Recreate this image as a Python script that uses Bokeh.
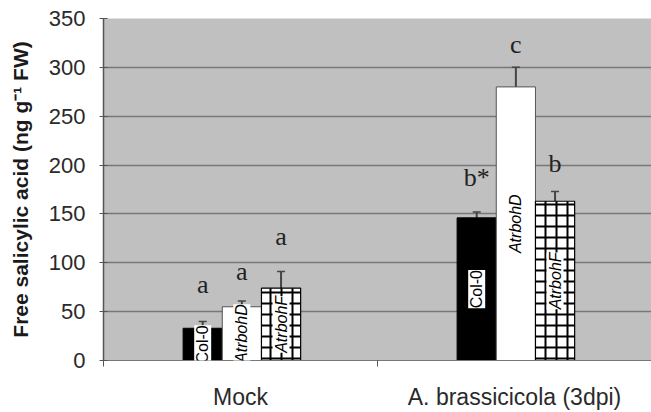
import numpy as np
from bokeh.plotting import figure
from bokeh.models import (ColumnDataSource, FixedTicker, Whisker, TeeHead,
                          LabelSet, Range1d)
from bokeh.embed import file_html
from bokeh.resources import INLINE
from bokeh.core.properties import value

# ---- data ----
groups = ["Mock", "A. brassicicola (3dpi)"]
genotypes = ["Col-0", "AtrbohD", "AtrbohF"]
mock_values = [33, 55, 74]
mock_err_top = [40, 61, 91]
path_values = [146, 280, 163]
path_err_top = [152, 300, 173]
mock_letters = ["a", "a", "a"]
path_letters = ["b*", "c", "b"]
mock_letter_y = [63, 76, 112]
path_letter_y = [172, 309, 187]
y_ticks = [0, 50, 100, 150, 200, 250, 300, 350]

# ---- build table ----
bar_w = 0.143
xs, vals, tops, letters, letter_y, names = [], [], [], [], [], []
for gi, (v, e, l, ly) in enumerate([
        (mock_values, mock_err_top, mock_letters, mock_letter_y),
        (path_values, path_err_top, path_letters, path_letter_y)]):
    for si in range(3):
        xs.append(gi + 0.505 + (si - 1) * bar_w)
        vals.append(v[si])
        tops.append(e[si])
        letters.append(l[si])
        letter_y.append(ly[si])
        names.append(genotypes[si])

src = ColumnDataSource(dict(x=xs, top=vals, upper=tops, letter=letters,
                            ly=letter_y, name=names))

p = figure(width=651, height=412, output_backend="svg", toolbar_location=None,
           x_range=Range1d(0, 2), y_range=Range1d(0, 350),
           min_border_left=103, min_border_right=0, min_border_top=18,
           min_border_bottom=50)
p.background_fill_color = "#c0c0c0"
p.border_fill_color = "white"
p.outline_line_color = None

# grid
p.xgrid.visible = False
p.ygrid.ticker = FixedTicker(ticks=y_ticks)
p.ygrid.grid_line_color = "#777777"
p.ygrid.grid_line_width = 1.6

# bars per genotype
def sub(idx):
    return ColumnDataSource(dict(x=[xs[i] for i in idx], top=[vals[i] for i in idx]))

p.vbar(x="x", top="top", width=bar_w, source=sub([0, 3]),
       fill_color="black", line_color="black", line_width=1)
p.vbar(x="x", top="top", width=bar_w, source=sub([1, 4]),
       fill_color="white", line_color="#555555", line_width=1)
p.vbar(x="x", top="top", width=bar_w, source=sub([2, 5]),
       fill_color="white", line_color="black", line_width=1.2,
       hatch_pattern="cross", hatch_color="black", hatch_scale=11,
       hatch_weight=2)

# error bars
wh = Whisker(base="x", upper="upper", lower="top", source=src,
             line_color="#444444", line_width=2,
             upper_head=TeeHead(size=8, line_color="#444444", line_width=1.5),
             lower_head=None)
p.add_layout(wh)

# significance letters
p.text(x="x", y="ly", text="letter", source=src,
       text_font=value("Liberation Serif"), text_font_size="26px",
       text_align="center", text_baseline="bottom", text_color="#222222")

# bar labels
col_src = ColumnDataSource(dict(x=[xs[0], xs[3]], y=[vals[0] / 2, vals[3] / 2],
                                name=[names[0], names[3]]))
mut_src = ColumnDataSource(dict(x=[xs[i] for i in (1, 2, 4, 5)],
                                y=[vals[i] / 2 for i in (1, 2, 4, 5)],
                                name=[names[i] for i in (1, 2, 4, 5)]))
p.add_layout(LabelSet(x="x", y="y", text="name", source=col_src, angle=np.pi / 2,
                      text_align="center", text_baseline="middle",
                      text_font=value("Liberation Sans"), text_font_size="16px",
                      text_color="black", background_fill_color="white"))
p.add_layout(LabelSet(x="x", y="y", text="name", source=mut_src, angle=np.pi / 2,
                      text_align="center", text_baseline="middle",
                      text_font=value("Liberation Sans"), text_font_size="16px",
                      text_font_style="italic",
                      text_color="black", background_fill_color="white"))

# y axis
ya = p.yaxis[0]
ya.ticker = FixedTicker(ticks=y_ticks)
ya.axis_label = "Free salicylic acid (ng g\u207b\u00b9 FW)"
ya.axis_label_text_font = "Liberation Sans"
ya.axis_label_text_font_style = "bold"
ya.axis_label_text_font_size = "21px"
ya.axis_label_text_color = "#1a1a1a"
ya.axis_label_standoff = 14
ya.major_label_text_font = "Liberation Sans"
ya.major_label_text_font_size = "22px"
ya.major_label_text_color = "#2a2a2a"
ya.major_label_standoff = 14
ya.major_tick_in = 4
ya.major_tick_out = 4
ya.minor_tick_line_color = None
ya.axis_line_color = "#555555"
ya.axis_line_width = 1.5
ya.major_tick_line_color = "#555555"

# x axis
xa = p.xaxis[0]
xa.ticker = FixedTicker(ticks=[0.5, 1.5], minor_ticks=[0, 1, 2])
xa.major_label_overrides = {0.5: groups[0], 1.5: groups[1]}
xa.major_label_text_font = "Liberation Sans"
xa.major_label_text_font_size = "23px"
xa.major_label_text_color = "#2a2a2a"
xa.major_label_standoff = 17
xa.major_tick_in = 0
xa.major_tick_out = 0
xa.minor_tick_in = 0
xa.minor_tick_out = 6
xa.minor_tick_line_color = "#555555"
xa.axis_line_color = "#777777"

open("out.html", "w").write(file_html(p, INLINE))
